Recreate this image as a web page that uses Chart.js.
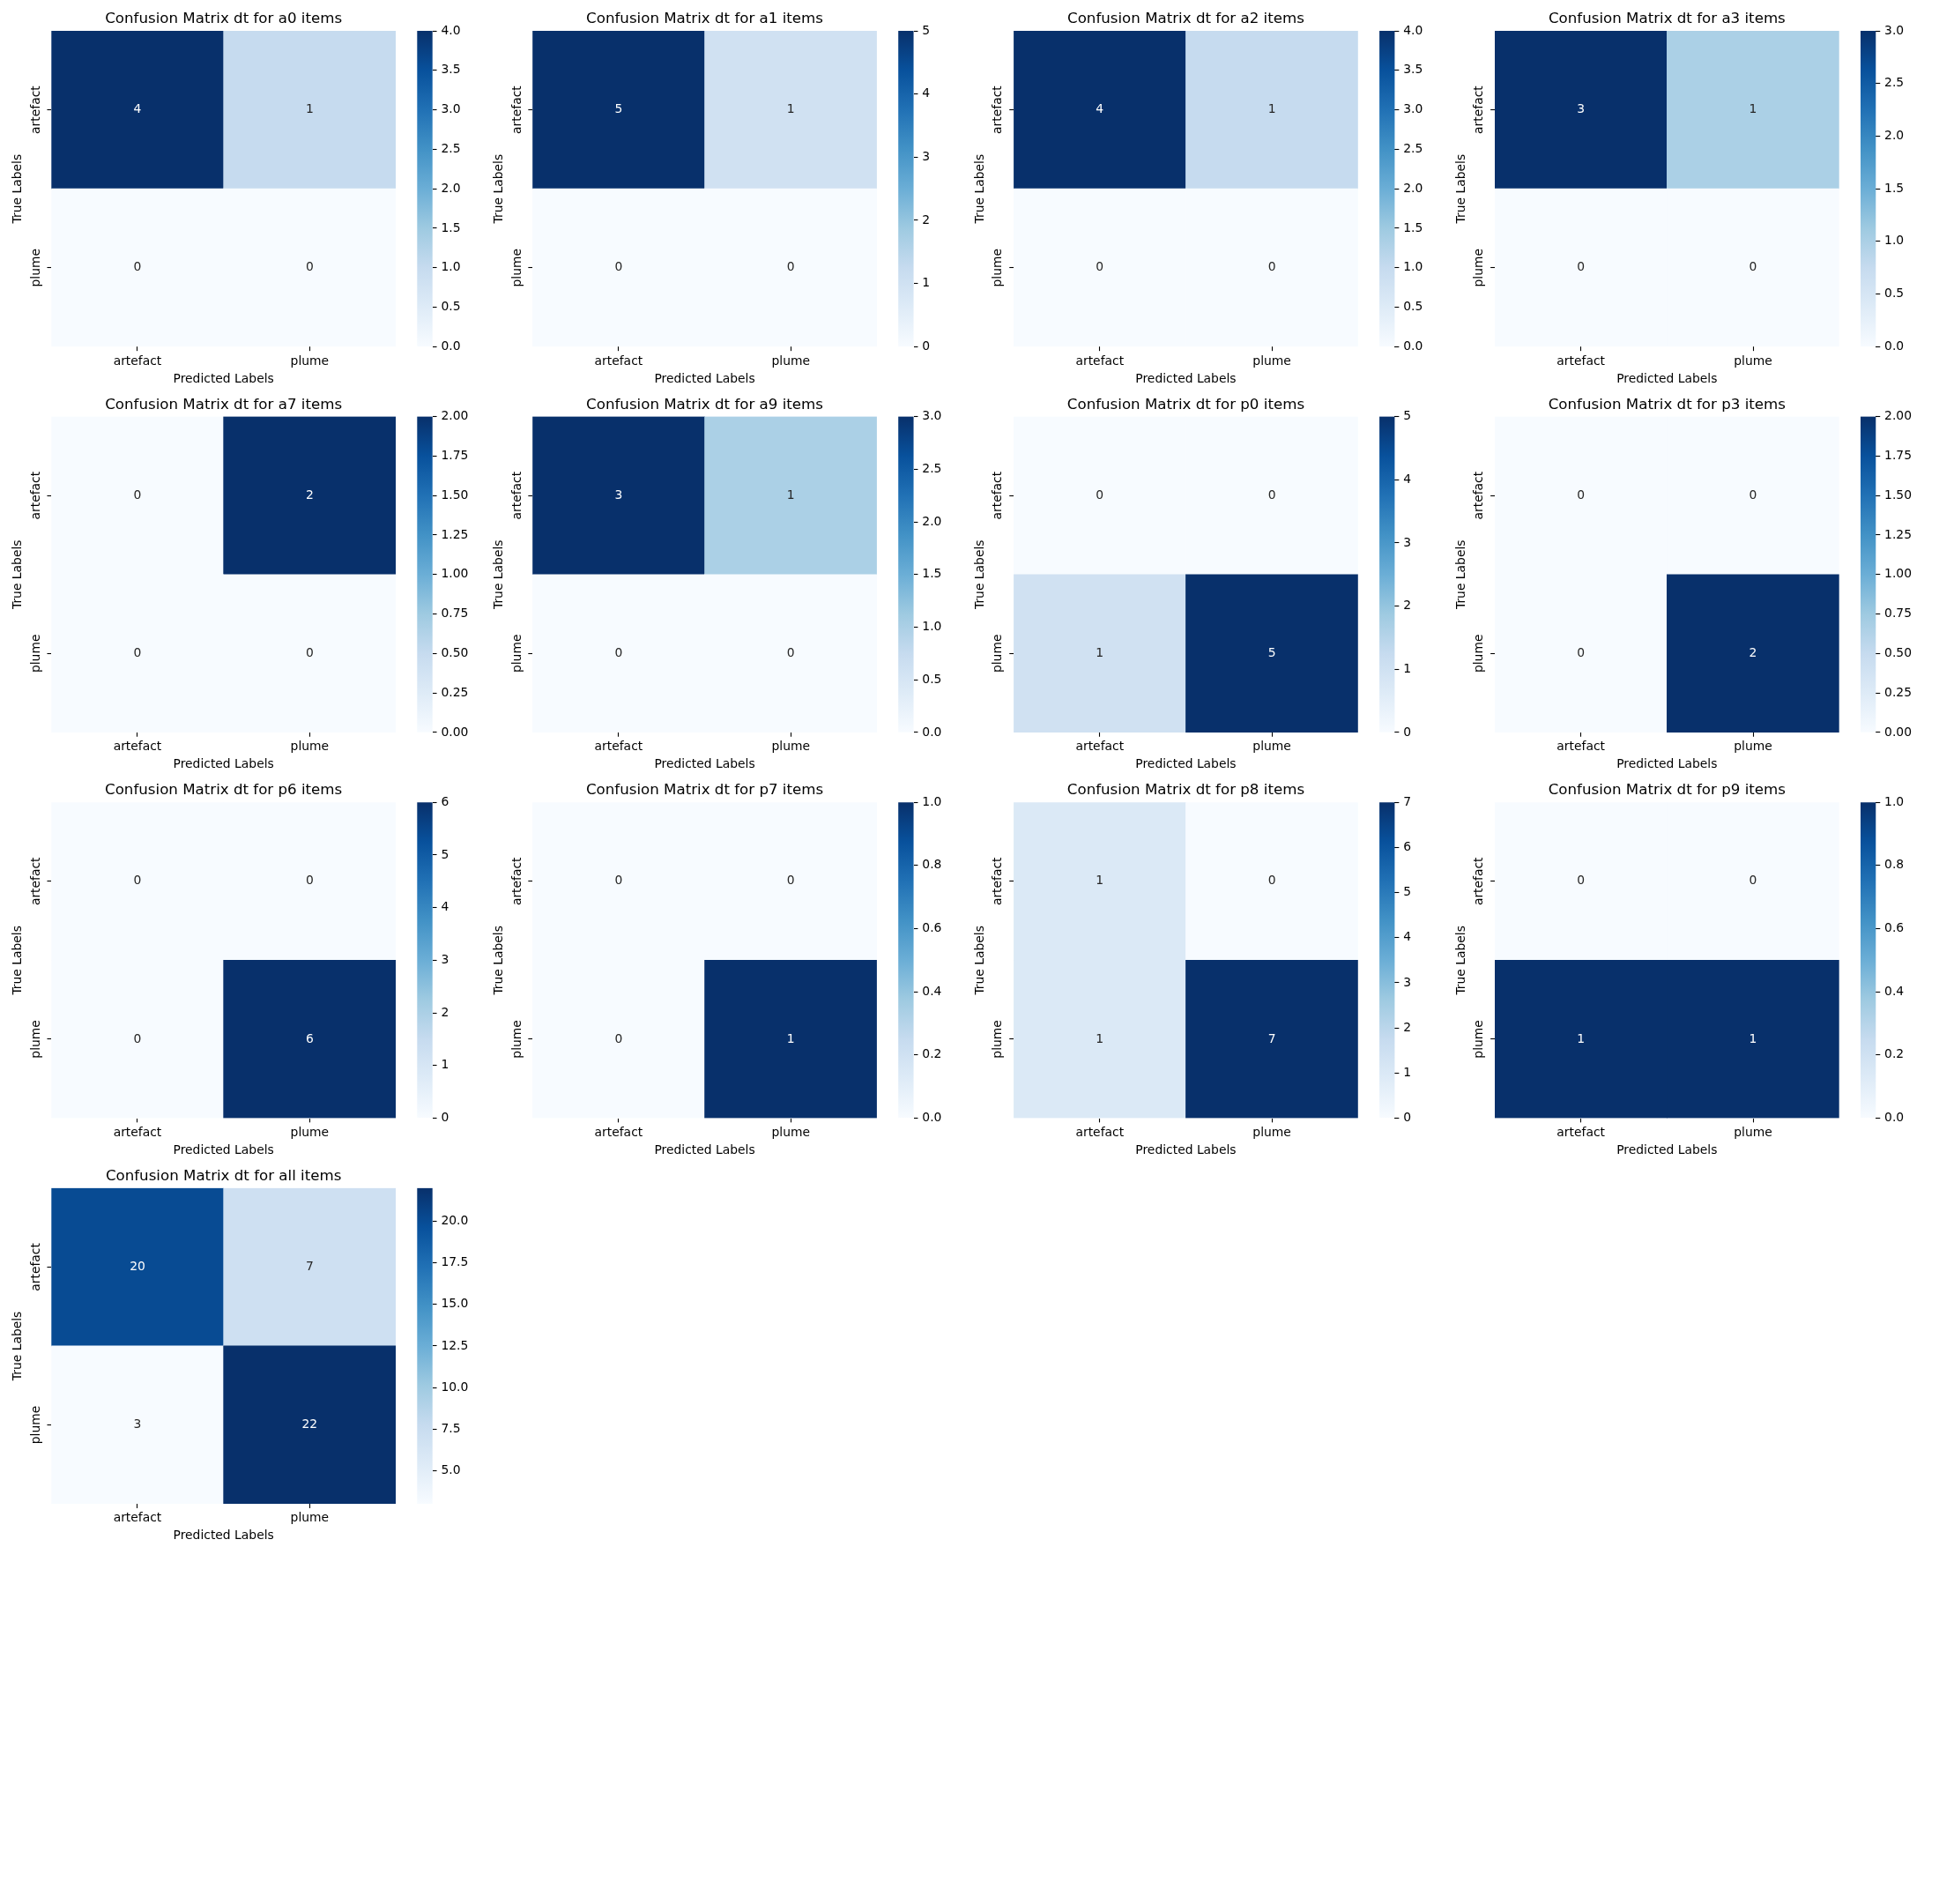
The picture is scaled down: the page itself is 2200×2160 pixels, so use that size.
<!DOCTYPE html>
<html>
<head>
<meta charset="utf-8">
<script src="https://cdn.jsdelivr.net/npm/chart.js@4.4.1/dist/chart.umd.min.js"></script>
<style>
html,body{margin:0;padding:0;background:#fff;}
#fig{position:relative;width:2200px;height:2160px;overflow:hidden;background:#fff;}
#fig canvas{position:absolute;}
</style>
</head>
<body>
<div id="fig"></div>
<script>
// ---------------- data ----------------
const groups = ['a0','a1','a2','a3','a7','a9','p0','p3','p6','p7','p8','p9','all'];
const classLabels = ['artefact','plume'];
// true = artefact row (predicted artefact, predicted plume)
const artefactRow = [[4,1],[5,1],[4,1],[3,1],[0,2],[3,1],[0,0],[0,0],[0,0],[0,0],[1,0],[0,0],[20,7]];
// true = plume row (predicted artefact, predicted plume)
const plumeRow    = [[0,0],[0,0],[0,0],[0,0],[0,0],[0,0],[1,5],[0,2],[0,6],[0,1],[1,7],[1,1],[3,22]];
const cbarTickLabels = [
  ['0.0','0.5','1.0','1.5','2.0','2.5','3.0','3.5','4.0'],
  ['0','1','2','3','4','5'],
  ['0.0','0.5','1.0','1.5','2.0','2.5','3.0','3.5','4.0'],
  ['0.0','0.5','1.0','1.5','2.0','2.5','3.0'],
  ['0.00','0.25','0.50','0.75','1.00','1.25','1.50','1.75','2.00'],
  ['0.0','0.5','1.0','1.5','2.0','2.5','3.0'],
  ['0','1','2','3','4','5'],
  ['0.00','0.25','0.50','0.75','1.00','1.25','1.50','1.75','2.00'],
  ['0','1','2','3','4','5','6'],
  ['0.0','0.2','0.4','0.6','0.8','1.0'],
  ['0','1','2','3','4','5','6','7'],
  ['0.0','0.2','0.4','0.6','0.8','1.0'],
  ['5.0','7.5','10.0','12.5','15.0','17.5','20.0']
];

// ---------------- style ----------------
const bluesStops = ['#f7fbff','#deebf7','#c6dbef','#9ecae1','#6baed6','#4292c6','#2171b5','#08519c','#08306b'];
const FONT = 'DejaVu Sans';
const TITLE_PX = 16.67, TICK_PX = 13.89;
const X0 = 58.3, DX = 545.9, Y0 = 35, DY = 437.6, AW = 390.7, AH = 358.3;
const CB_OFF = 415, CB_W = 17.4;
const TL = 4.86, TW = 1.1;

Chart.defaults.font.family = FONT;
Chart.defaults.color = '#000';
Chart.defaults.animation = false;

function hexToRgb(h){ const n = parseInt(h.slice(1),16); return [(n>>16)&255,(n>>8)&255,n&255]; }
const bluesRgb = bluesStops.map(hexToRgb);
function blues(t){
  t = Math.min(1, Math.max(0, t));
  const j = Math.min(255, Math.floor(t*256));
  const x = (j/255)*8;
  const i = Math.min(7, Math.floor(x));
  const f = x - i;
  return bluesRgb[i].map((c,k)=>c + (bluesRgb[i+1][k]-c)*f);
}
function rgbStr(c){ return 'rgb(' + c.map(v=>Math.round(v)).join(',') + ')'; }
function luminance(c){
  const l = c.map(v=>{ v/=255; return v <= 0.03928 ? v/12.92 : Math.pow((v+0.055)/1.055, 2.4); });
  return 0.2126*l[0] + 0.7152*l[1] + 0.0722*l[2];
}

const measCtx = document.createElement('canvas').getContext('2d');
measCtx.font = TICK_PX + 'px "' + FONT + '"';
const widestLabel = Math.max(...classLabels.map(s=>measCtx.measureText(s).width));

const annotPlugin = {
  id: 'annot',
  afterDatasetsDraw(chart){
    const ctx = chart.ctx;
    ctx.save();
    ctx.font = TICK_PX + 'px "' + FONT + '"';
    ctx.textAlign = 'center';
    ctx.textBaseline = 'middle';
    chart.data.datasets.forEach((ds, di)=>{
      const meta = chart.getDatasetMeta(di);
      meta.data.forEach((el, j)=>{
        ctx.fillStyle = ds.textColors[j];
        ctx.fillText(String(ds.counts[j]), el.x, (el.y + el.base)/2);
      });
    });
    ctx.restore();
  }
};

const fig = document.getElementById('fig');
function makeCanvas(left, top, w, h){
  const cv = document.createElement('canvas');
  cv.width = w; cv.height = h;
  cv.style.left = left + 'px'; cv.style.top = top + 'px';
  cv.style.width = w + 'px'; cv.style.height = h + 'px';
  fig.appendChild(cv);
  return cv;
}

groups.forEach((g, i)=>{
  const c = i % 4, r = Math.floor(i/4);
  const L = X0 + DX*c, T = Y0 + DY*r;
  const cx = Math.floor(L) - 60, cy = Math.floor(T) - 35;
  const W = Math.ceil(L - cx + AW) + 2;
  const H = Math.ceil(T - cy + AH) + 50;
  const leftW = L - cx, topH = T - cy;
  const padR = W - (leftW + AW);
  const bottomH = H - (topH + AH);

  const rows = [artefactRow[i], plumeRow[i]];
  const all = rows.flat();
  const vmin = Math.min(...all), vmax = Math.max(...all);
  const norm = v => (vmax > vmin ? (v - vmin)/(vmax - vmin) : 0);

  // datasets stacked bottom-up: plume row first, artefact row on top
  const datasets = rows.slice().reverse().map((counts)=>{
    const cols = counts.map(v=>blues(norm(v)));
    return {
      data: counts.map(()=>1),
      counts: counts,
      backgroundColor: cols.map(rgbStr),
      textColors: cols.map(col=> luminance(col) > 0.408 ? '#262626' : '#ffffff'),
      borderWidth: 0,
      categoryPercentage: 1.0,
      barPercentage: 1.0
    };
  });

  const cv = makeCanvas(cx, cy, W, H);
  new Chart(cv, {
    type: 'bar',
    data: { labels: classLabels, datasets },
    plugins: [annotPlugin],
    options: {
      responsive: false,
      devicePixelRatio: 1,
      animation: false,
      events: [],
      layout: { padding: { left: 0, right: padR, top: 0, bottom: 0 } },
      plugins: {
        legend: { display: false },
        tooltip: { enabled: false },
        title: {
          display: true,
          text: 'Confusion Matrix dt for ' + g + ' items',
          fullSize: false,
          color: '#000',
          font: { size: TITLE_PX, weight: 'normal', family: FONT, lineHeight: 1.2 },
          padding: { top: topH - 13.3 - 10, bottom: 13.3 + 10 - 20 }
        }
      },
      scales: {
        x: {
          type: 'category',
          stacked: true,
          offset: true,
          grid: { display: true, offset: false, drawOnChartArea: false, drawTicks: true,
                  tickLength: TL, tickWidth: TW, tickColor: '#000' },
          border: { display: false },
          ticks: { color: '#000', padding: 3.5, font: { size: TICK_PX, family: FONT }, maxRotation: 0, autoSkip: false },
          title: { display: true, text: 'Predicted Labels', color: '#000',
                   font: { size: TICK_PX, family: FONT, lineHeight: 1.2 },
                   padding: { top: 0, bottom: bottomH - 36.7 - TICK_PX*0.6 } },
          afterFit: s => { s.height = bottomH; }
        },
        y: {
          type: 'linear',
          stacked: true,
          min: 0, max: classLabels.length,
          afterBuildTicks: s => { s.ticks = classLabels.map((_, k)=>({ value: classLabels.length - k - 0.5 })); },
          grid: { display: true, drawOnChartArea: false, drawTicks: true,
                  tickLength: TL, tickWidth: TW, tickColor: '#000' },
          border: { display: false },
          ticks: {
            color: '#000', autoSkip: false, minRotation: 90, maxRotation: 90,
            crossAlign: 'center',
            padding: 17.3 - TL - widestLabel/2,
            font: { size: TICK_PX, family: FONT },
            callback: v => classLabels[classLabels.length - 1 - Math.floor(v)]
          },
          title: { display: true, text: 'True Labels', color: '#000',
                   font: { size: TICK_PX, family: FONT, lineHeight: 1.2 },
                   padding: { top: leftW - 38 - TICK_PX*0.6, bottom: 0 } },
          afterFit: s => { s.width = leftW; }
        }
      }
    }
  });

  // colorbar
  const ccx = Math.floor(L + CB_OFF) - 2;
  const padL = L + CB_OFF - ccx;
  const CW = 80;
  const cbRightW = CW - padL - CB_W;
  const tickLabels = cbarTickLabels[i];
  const cbv = makeCanvas(ccx, cy, CW, H);
  new Chart(cbv, {
    type: 'bar',
    data: {
      labels: [''],
      datasets: [{
        data: [[vmin, vmax]],
        borderWidth: 0,
        categoryPercentage: 1.0,
        barPercentage: 1.0,
        backgroundColor: ctx => {
          const a = ctx.chart.chartArea;
          if (!a) return bluesStops[0];
          const grad = ctx.chart.ctx.createLinearGradient(0, a.bottom, 0, a.top);
          bluesStops.forEach((s, k)=>grad.addColorStop(k/(bluesStops.length-1), s));
          return grad;
        }
      }]
    },
    options: {
      responsive: false,
      devicePixelRatio: 1,
      animation: false,
      events: [],
      layout: { padding: { left: padL, right: 0, top: topH, bottom: bottomH } },
      plugins: { legend: { display: false }, tooltip: { enabled: false }, title: { display: false } },
      scales: {
        x: { type: 'category', display: false, offset: true },
        y: {
          type: 'linear',
          position: 'right',
          min: vmin, max: vmax,
          afterBuildTicks: s => { s.ticks = tickLabels.map(t=>({ value: parseFloat(t) })); },
          grid: { display: true, drawOnChartArea: false, drawTicks: true,
                  tickLength: TL, tickWidth: TW, tickColor: '#000' },
          border: { display: false },
          ticks: { color: '#000', autoSkip: false, padding: 4.86,
                   font: { size: TICK_PX, family: FONT },
                   callback: (v, k) => tickLabels[k] },
          afterFit: s => { s.width = cbRightW; }
        }
      }
    }
  });
});
</script>
</body>
</html>
